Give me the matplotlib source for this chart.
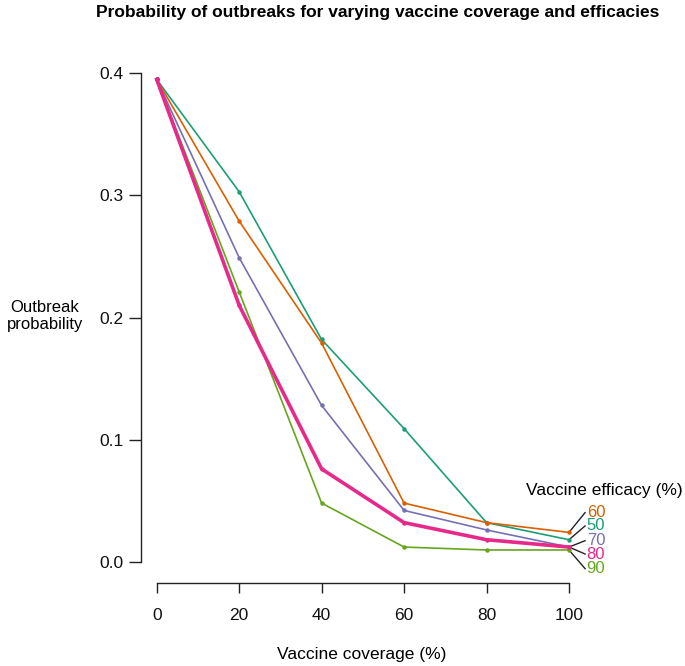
import matplotlib
matplotlib.use("Agg")
import matplotlib.pyplot as plt

plt.rcParams['font.family'] = ['Liberation Sans', 'DejaVu Sans']

coverage = [0, 20, 40, 60, 80, 100]
efficacies = ["60", "50", "70", "80", "90"]
series = {
    "50": [0.395, 0.303, 0.182, 0.109, 0.032, 0.018],
    "60": [0.395, 0.279, 0.179, 0.048, 0.032, 0.024],
    "70": [0.395, 0.249, 0.128, 0.042, 0.026, 0.012],
    "80": [0.395, 0.210, 0.076, 0.032, 0.018, 0.012],
    "90": [0.395, 0.221, 0.048, 0.012, 0.0096, 0.0096],
}
colors = {"50": "#1b9e77", "60": "#d95f02", "70": "#7570b3", "80": "#e7298a", "90": "#66a61e"}
widths = {"50": 1.2, "60": 1.2, "70": 1.2, "80": 2.6, "90": 1.2}
yticks = [0.0, 0.1, 0.2, 0.3, 0.4]
xticks = [0, 20, 40, 60, 80, 100]

W, H = 685, 666
FS = 12.5
fig = plt.figure(figsize=(W / 100, H / 100), dpi=100)
ax = fig.add_axes([156.7 / W, (H - 561.7) / H, (569 - 156.7) / W, (561.7 - 73.3) / H])
ax.set_xlim(0, 100)
ax.set_ylim(0, 0.4)

for key in ["50", "60", "70", "90", "80"]:
    ax.plot(coverage, series[key], color=colors[key], lw=widths[key], marker='o',
            markersize=2.2, clip_on=False, zorder=3)

# Right-side labels with leader lines
label_ys = [0.0402, 0.0293, 0.0172, 0.0063, -0.0057]
for key, ly in zip(efficacies, label_ys):
    ax.plot([100, 103.9], [series[key][-1], ly], color='#222222', lw=1.0, clip_on=False, zorder=2)
    ax.text(104.3, ly, key, color=colors[key], fontsize=12, ha='left', va='center', clip_on=False)
ax.text(108.5, 0.0585, "Vaccine efficacy (%)", fontsize=FS, ha='center', va='center', clip_on=False)

for s in ['top', 'right']:
    ax.spines[s].set_visible(False)
ax.spines['left'].set_position(('outward', 11.3))
ax.spines['bottom'].set_position(('outward', 15.1))
ax.spines['left'].set_bounds(0, 0.4)
ax.spines['bottom'].set_bounds(0, 100)
for s in ['left', 'bottom']:
    ax.spines[s].set_linewidth(1.0)
    ax.spines[s].set_color('#222222')

ax.set_xticks(xticks)
ax.set_xticklabels([str(v) for v in xticks])
ax.set_yticks(yticks)
ax.set_yticklabels([f"{v:.1f}" for v in yticks])
ax.tick_params(axis='y', length=8.5, width=1.0, labelsize=FS, pad=4, colors='#222222', labelcolor='#111111')
ax.tick_params(axis='x', length=7.2, width=1.0, labelsize=FS, pad=11, colors='#222222', labelcolor='#111111')

fig.text(45 / W, 1 - 316 / H, "Outbreak\nprobability", fontsize=12, ha='center', va='center')
fig.text(362 / W, 1 - 655 / H, "Vaccine coverage (%)", fontsize=FS, ha='center', va='center')
fig.text(378 / W, 1 - 13 / H, "Probability of outbreaks for varying vaccine coverage and efficacies",
         fontsize=12.5, fontweight='bold', ha='center', va='center')

fig.savefig("out.png", dpi=100)
